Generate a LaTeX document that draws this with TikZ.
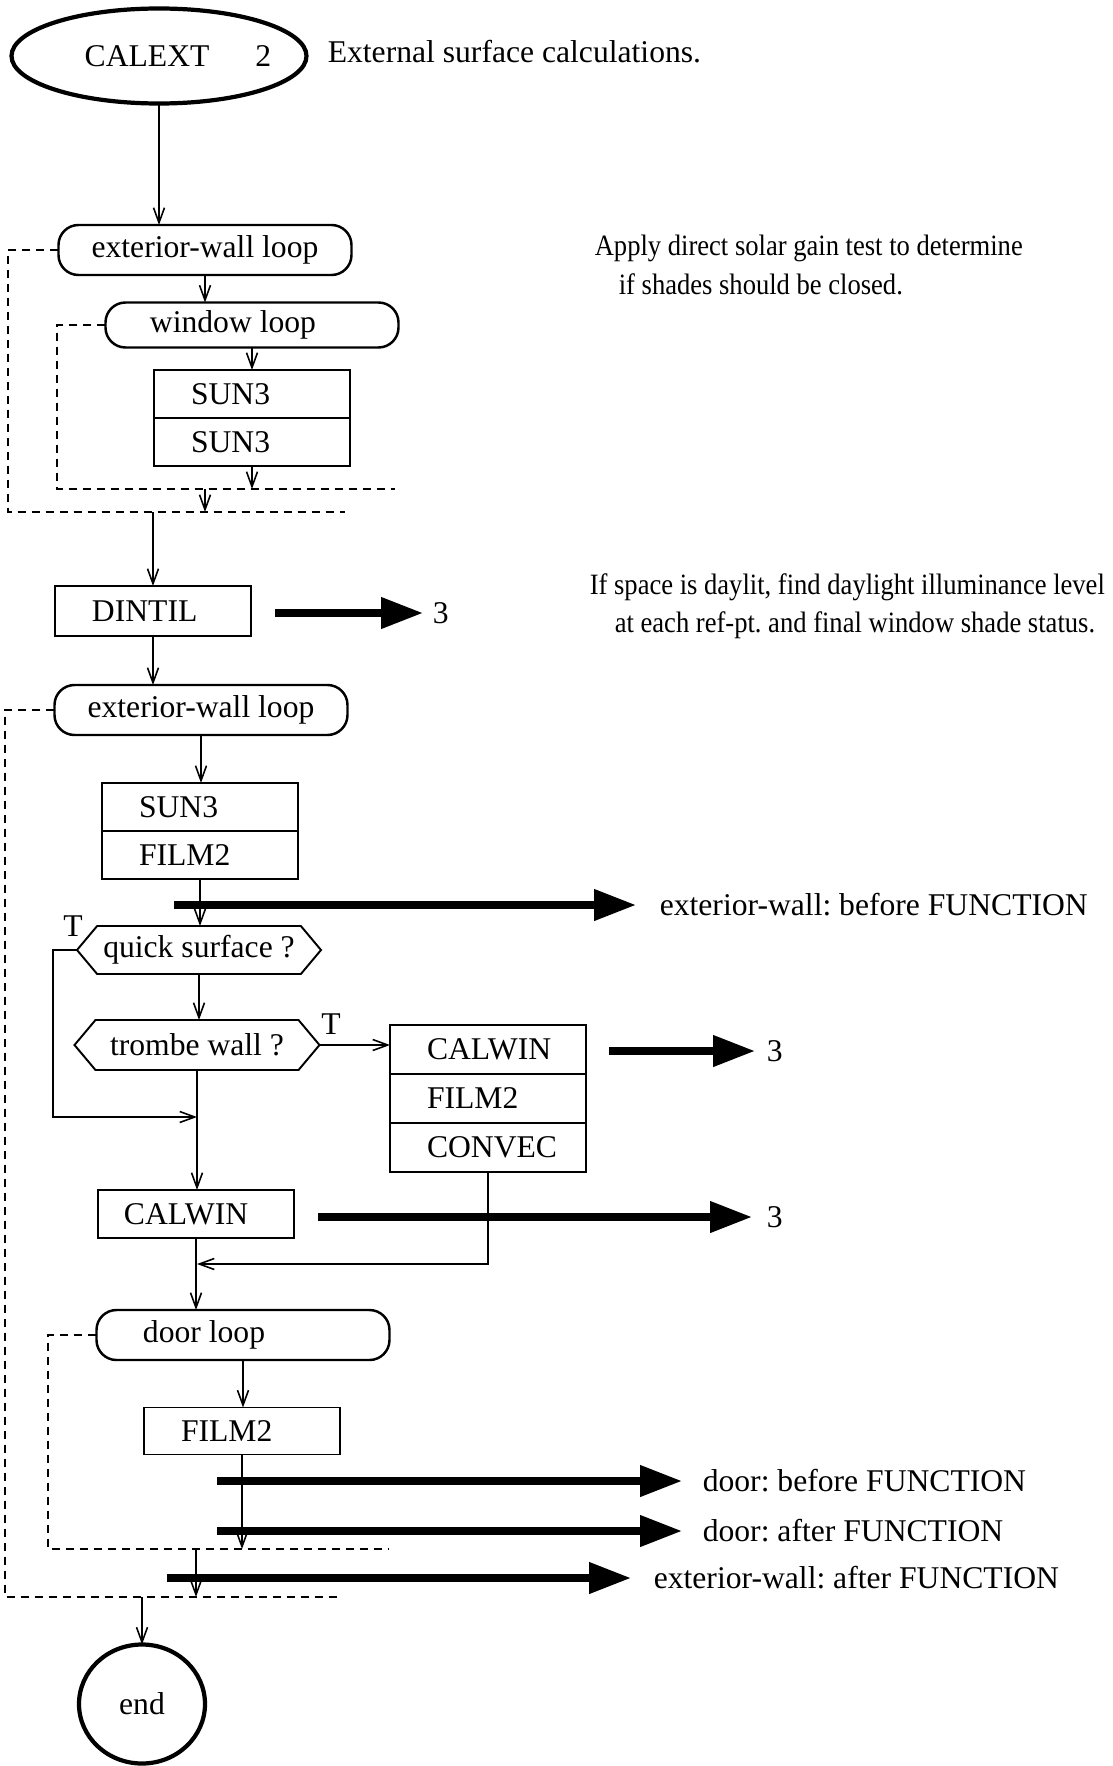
\documentclass[tikz,border=0pt]{standalone}
\usepackage{fontspec}
\setmainfont{Liberation Serif}
\newfontfamily\notefont[FakeStretch=0.9]{Liberation Serif}
\usetikzlibrary{positioning,arrows.meta,shapes.geometric,shapes.symbols}
\frenchspacing

\begin{document}
\begin{tikzpicture}[x=0.2mm, y=-0.2mm, font=\fontsize{18}{21}\selectfont,
  >={Straight Barb[length=3mm,width=2.2mm]}, line width=0.9pt,
  box/.style={draw, line width=1.1pt, minimum width=39.2mm, minimum height=9.6mm,
    text width=39.2mm, align=left, inner sep=0pt, outer sep=0pt,
    execute at begin node={\hspace*{#1}}},
  box/.default=7.4mm,
  loopbox/.style={draw, line width=1.4pt, rounded corners=4mm, minimum width=58.6mm,
    minimum height=10mm, inner sep=0pt, outer sep=0pt},
  test/.style={draw, shape=signal, signal to=west and east, signal pointer angle=100,
    line width=1.1pt, minimum width=48.8mm, minimum height=9.6mm, inner sep=0pt, outer sep=0pt},
  term/.style={draw, ellipse, line width=2.4pt, inner sep=0pt, outer sep=0pt},
  loopline/.style={line width=0.9pt, dash pattern=on 1.6mm off 1.2mm},
  fat/.style={line width=4.2pt, -{Triangle[length=8.4mm,width=6mm]}},
  lbl/.style={anchor=west, inner sep=0pt},
  note/.style={anchor=west, inner sep=0pt, font=\notefont\fontsize{16.8}{20}\selectfont}]
  \useasboundingbox (0,0) rectangle (1113,1766);

  \node[term, minimum width=59mm, minimum height=19mm] (calext) at (159,56)
    {\makebox[30mm]{\hspace*{7.6mm}CALEXT\hspace{9.2mm}2}};
  \node[lbl] (title) at (327,52) {External surface calculations.};

  \node[loopbox] (ew1) at (205,250) {exterior-wall loop};
  \node[loopbox, minimum height=9mm] (win) at (252,325) {window loop\hspace*{7.6mm}};
  \node[box] (sun3a) at (252,394) {SUN3};
  \node[box, below=0pt of sun3a] (sun3b) {SUN3};
  \node[note] (n1) at (594,248) {Apply direct solar gain test to determine};
  \node[note] (n1b) at (618,284) {if shades should be closed.};

  \coordinate (wl) at (57,489);
  \coordinate (wr) at (395,489);
  \coordinate (el) at (8,512);
  \coordinate (er) at (345,512);

  \node[box, minimum height=10mm] (dintil) at (153,611) {DINTIL};
  \node[lbl] (r1) at (432,613) {3};
  \coordinate (d1) at (275,613);
  \node[note] (n2) at (589,587) {If space is daylit, find daylight illuminance level};
  \node[note] (n2b) at (614,625) {at each ref-pt. and final window shade status.};

  \node[loopbox] (ew2) at (201,710) {exterior-wall loop};
  \node[box] (sun3c) at (200,807) {SUN3};
  \node[box, below=0pt of sun3c] (film2a) {FILM2};
  \coordinate (d2) at (174,905);
  \node[lbl] (r2) at (659,905) {exterior-wall: before FUNCTION};

  \node[test] (quick) at (199,950) {quick surface ?};
  \node (tq) at (73,926) {T};
  \node[test, minimum width=49mm, minimum height=10mm] (trombe) at (197,1045) {trombe wall ?};
  \node (tt) at (331,1024) {T};
  \coordinate (qc) at (53,1117);
  \coordinate (qj) at (197,1117);

  \node[box, minimum height=9.8mm] (calwin1) at (488,1049.5) {CALWIN};
  \node[box, minimum height=9.8mm, below=0pt of calwin1] (film2b) {FILM2};
  \node[box, minimum height=9.8mm, below=0pt of film2b] (convec) {CONVEC};
  \coordinate (d3) at (609,1051);
  \node[lbl] (r3) at (766,1051) {3};

  \node[box=5.2mm] (calwin2) at (196,1214) {CALWIN};
  \coordinate (d4) at (318,1217);
  \node[lbl] (r4) at (766,1217) {3};
  \coordinate (cj) at (197,1264);

  \node[loopbox] (door) at (243,1335) {door loop\hspace*{15.6mm}};
  \node[box, minimum height=9.4mm] (film2c) at (242,1431) {FILM2};
  \coordinate (d5) at (217,1481);
  \node[lbl] (r5) at (702,1481) {door: before FUNCTION};
  \coordinate (d6) at (217,1531);
  \node[lbl] (r6) at (702,1531) {door: after FUNCTION};
  \coordinate (d7) at (167,1578);
  \node[lbl] (r7) at (653,1578) {exterior-wall: after FUNCTION};
  \coordinate (dl) at (48,1549);
  \coordinate (dr) at (389,1549);
  \coordinate (xl) at (5,1597);
  \coordinate (xr) at (339,1597);

  \node[term, minimum width=25.2mm, minimum height=23.8mm] (fin) at (142,1704) {end};

  \draw[->] (calext.south) -- (calext.south |- ew1.north);
  \draw[->] (ew1.south) -- (ew1.south |- win.north);
  \draw[->] (win) -- (sun3a);
  \draw[->] (sun3b) -- (sun3b |- wl);
  \draw[loopline] (win.west) -| (wl) -- (wr);
  \draw[loopline] (ew1.west) -| (el) -- (er);
  \draw[->] (ew1.south |- wl) -- (ew1.south |- el);
  \draw[->] (dintil.north |- el) -- (dintil.north);
  \draw[fat, shorten >=1.8mm] (d1) -- (r1);
  \draw[->] (dintil) -- (dintil |- ew2.north);
  \draw[loopline] (ew2.west) -| (xl) -- (xr);
  \draw[->] (ew2.south) -- (ew2.south |- sun3c.north);
  \draw[->] (film2a) -- (film2a |- quick.north);
  \draw[fat, shorten >=4.6mm] (d2) -- (r2);
  \draw[->] (quick) -- (quick |- trombe.north);
  \draw[->] (quick.west) -| (qc) -- (qj);
  \draw[->] (trombe.east) -- (trombe.east -| calwin1.west);
  \draw[fat, shorten >=2.2mm] (d3) -- (r3);
  \draw[->] (trombe) -- (trombe |- calwin2.north);
  \draw[fat, shorten >=2.8mm] (d4) -- (r4);
  \draw[->] (convec) |- (cj);
  \draw[->] (calwin2) -- (calwin2 |- door.north);
  \draw[loopline] (door.west) -| (dl) -- (dr);
  \draw[->] (door.south) -- (door.south |- film2c.north);
  \draw[->] (film2c) -- (film2c |- dl);
  \draw[fat, shorten >=4mm] (d5) -- (r5);
  \draw[fat, shorten >=4mm] (d6) -- (r6);
  \draw[fat, shorten >=4.4mm] (d7) -- (r7);
  \draw[->] (calwin2.south |- dl) -- (calwin2.south |- xl);
  \draw[->] (fin |- xl) -- (fin);
\end{tikzpicture}
\end{document}
